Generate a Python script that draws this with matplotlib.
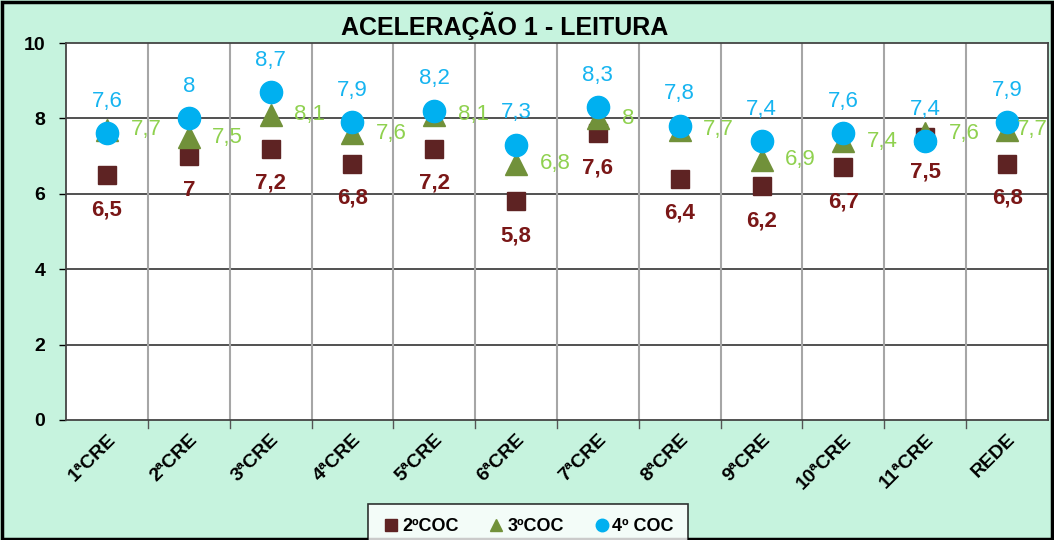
import matplotlib
matplotlib.use("Agg")
import matplotlib.pyplot as plt
from matplotlib.patches import Rectangle
from matplotlib.lines import Line2D

# dados de leitura por CRE
categorias = ["1ªCRE", "2ªCRE", "3ªCRE", "4ªCRE", "5ªCRE", "6ªCRE",
              "7ªCRE", "8ªCRE", "9ªCRE", "10ªCRE", "11ªCRE", "REDE"]
coc2 = [6.5, 7, 7.2, 6.8, 7.2, 5.8, 7.6, 6.4, 6.2, 6.7, 7.5, 6.8]
coc3 = [7.7, 7.5, 8.1, 7.6, 8.1, 6.8, 8, 7.7, 6.9, 7.4, 7.6, 7.7]
coc4 = [7.6, 8, 8.7, 7.9, 8.2, 7.3, 8.3, 7.8, 7.4, 7.6, 7.4, 7.9]

fundo = "#c6f3de"
plt.rcParams["font.family"] = ["Liberation Sans", "DejaVu Sans"]

fig = plt.figure(figsize=(10.54, 5.4), dpi=100, facecolor=fundo)
ax = fig.add_axes([66 / 1054, 120 / 540, 982 / 1054, 377 / 540])
ax.set_facecolor("white")

x = list(range(len(categorias)))

def fmt(v):
    return ("%g" % v).replace(".", ",")

ax.plot(x, coc2, "s", color="#5e2323", ms=13, zorder=3)
ax.plot(x, coc3, "^", color="#71913a", ms=16, zorder=4)
ax.plot(x, coc4, "o", color="#00b0f0", ms=16, zorder=5)

for i in x:
    ax.annotate(fmt(coc2[i]), (i, coc2[i]), xytext=(0, -25), textcoords="offset points",
                ha="center", va="center", color="#7a1717", fontsize=16, fontweight="bold", zorder=6)
    # ultimo rotulo puxado para dentro da area do grafico
    dx = 17 if i < len(x) - 1 else 7
    ax.annotate(fmt(coc3[i]), (i, coc3[i]), xytext=(dx, 0), textcoords="offset points",
                ha="left", va="center", color="#8fd14f", fontsize=16, zorder=6,
                annotation_clip=False)
    ax.annotate(fmt(coc4[i]), (i, coc4[i]), xytext=(0, 23), textcoords="offset points",
                ha="center", va="center", color="#16b4f0", fontsize=16, zorder=6)

ax.set_xlim(-0.5, len(categorias) - 0.5)
ax.set_ylim(0, 10)
ax.set_yticks([0, 2, 4, 6, 8, 10])
ax.set_yticklabels(["0", "2", "4", "6", "8", "10"], fontsize=14, fontweight="bold")
ax.set_xticks(x)
ax.set_xticklabels(categorias, rotation=45, ha="right", rotation_mode="anchor",
                   fontsize=14, fontweight="bold")
ax.tick_params(axis="x", length=0, pad=8)
ax.tick_params(axis="y", length=5, width=1, direction="out", pad=10)

# grade: horizontais pretas, verticais cinza entre categorias
for yv in [2, 4, 6, 8]:
    ax.axhline(yv, color="#333333", lw=1.2, zorder=1)
for b in range(1, len(categorias)):
    ax.axvline(b - 0.5, color="#a6a6a6", lw=1.5, zorder=1)
    ax.plot([b - 0.5, b - 0.5], [0, -0.2], color="#555555", lw=1, clip_on=False)
for s in ax.spines.values():
    s.set_color("#444444")
    s.set_linewidth(1.3)

fig.text(0.479, 0.953, "ACELERAÇÃO 1 - LEITURA", ha="center", va="center",
         fontsize=18, fontweight="bold")

handles = [
    Line2D([], [], ls="", marker="s", color="#5e2323", ms=8),
    Line2D([], [], ls="", marker="^", color="#71913a", ms=9),
    Line2D([], [], ls="", marker="o", color="#00b0f0", ms=9),
]
leg = fig.legend(handles, ["2ºCOC", "3ºCOC", "4º COC"], loc="upper center",
                 bbox_to_anchor=(528 / 1054, 45 / 540), ncol=3, frameon=True,
                 fancybox=False, edgecolor="black", handletextpad=0.1,
                 columnspacing=1.6, borderpad=0.8, handlelength=1,
                 prop={"weight": "bold", "size": 13})
leg.get_frame().set_linewidth(1.2)

fig.patches.append(Rectangle((0.002, 0.002), 0.996, 0.994, transform=fig.transFigure,
                             fill=False, edgecolor="black", lw=2.5))

fig.savefig("out.png", dpi=100, facecolor=fundo)
